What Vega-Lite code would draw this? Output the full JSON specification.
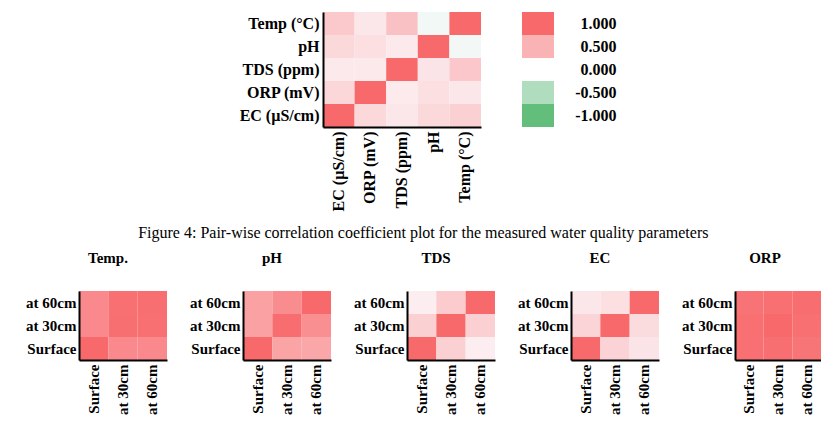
{
  "$schema": "https://vega.github.io/schema/vega-lite/v6.json",
  "background": "white",
  "padding": {"left": 25, "top": 12, "right": 0, "bottom": 0},
  "config": {
    "view": {"stroke": null},
    "font": "Liberation Serif",
    "axis": {"domain": true, "domainColor": "black", "domainWidth": 2, "ticks": false, "labelFont": "Liberation Serif", "labelFontWeight": "bold", "labelColor": "black", "title": null, "grid": false},
    "title": {"font": "Liberation Serif", "fontSize": 15, "fontWeight": "bold", "color": "black", "offset": 25}
  },
  "datasets": {
    "main": [
      {"row": "Temp (°C)", "col": "EC (µS/cm)", "r": 0.35},
      {"row": "Temp (°C)", "col": "ORP (mV)", "r": 0.15},
      {"row": "Temp (°C)", "col": "TDS (ppm)", "r": 0.4},
      {"row": "Temp (°C)", "col": "pH", "r": -0.07},
      {"row": "Temp (°C)", "col": "Temp (°C)", "r": 1},
      {"row": "pH", "col": "EC (µS/cm)", "r": 0.24},
      {"row": "pH", "col": "ORP (mV)", "r": 0.2},
      {"row": "pH", "col": "TDS (ppm)", "r": 0.13},
      {"row": "pH", "col": "pH", "r": 1},
      {"row": "pH", "col": "Temp (°C)", "r": -0.06},
      {"row": "TDS (ppm)", "col": "EC (µS/cm)", "r": 0.13},
      {"row": "TDS (ppm)", "col": "ORP (mV)", "r": 0.13},
      {"row": "TDS (ppm)", "col": "TDS (ppm)", "r": 1},
      {"row": "TDS (ppm)", "col": "pH", "r": 0.16},
      {"row": "TDS (ppm)", "col": "Temp (°C)", "r": 0.36},
      {"row": "ORP (mV)", "col": "EC (µS/cm)", "r": 0.25},
      {"row": "ORP (mV)", "col": "ORP (mV)", "r": 1},
      {"row": "ORP (mV)", "col": "TDS (ppm)", "r": 0.12},
      {"row": "ORP (mV)", "col": "pH", "r": 0.2},
      {"row": "ORP (mV)", "col": "Temp (°C)", "r": 0.15},
      {"row": "EC (µS/cm)", "col": "EC (µS/cm)", "r": 1},
      {"row": "EC (µS/cm)", "col": "ORP (mV)", "r": 0.24},
      {"row": "EC (µS/cm)", "col": "TDS (ppm)", "r": 0.15},
      {"row": "EC (µS/cm)", "col": "pH", "r": 0.24},
      {"row": "EC (µS/cm)", "col": "Temp (°C)", "r": 0.3}
    ],
    "legend": [
      {"label": "1.000", "r": 1},
      {"label": "0.500", "r": 0.5},
      {"label": "-0.500", "r": -0.5},
      {"label": "-1.000", "r": -1}
    ],
    "depth": [
      {"p": "Temp", "rw": "Surface", "c": "Surface", "r": 1},
      {"p": "Temp", "rw": "Surface", "c": "at 30cm", "r": 0.78},
      {"p": "Temp", "rw": "Surface", "c": "at 60cm", "r": 0.78},
      {"p": "Temp", "rw": "at 30cm", "c": "Surface", "r": 0.78},
      {"p": "Temp", "rw": "at 30cm", "c": "at 30cm", "r": 0.96},
      {"p": "Temp", "rw": "at 30cm", "c": "at 60cm", "r": 0.95},
      {"p": "Temp", "rw": "at 60cm", "c": "Surface", "r": 0.78},
      {"p": "Temp", "rw": "at 60cm", "c": "at 30cm", "r": 0.95},
      {"p": "Temp", "rw": "at 60cm", "c": "at 60cm", "r": 0.96},
      {"p": "pH", "rw": "Surface", "c": "Surface", "r": 1},
      {"p": "pH", "rw": "Surface", "c": "at 30cm", "r": 0.6},
      {"p": "pH", "rw": "Surface", "c": "at 60cm", "r": 0.58},
      {"p": "pH", "rw": "at 30cm", "c": "Surface", "r": 0.62},
      {"p": "pH", "rw": "at 30cm", "c": "at 30cm", "r": 0.97},
      {"p": "pH", "rw": "at 30cm", "c": "at 60cm", "r": 0.74},
      {"p": "pH", "rw": "at 60cm", "c": "Surface", "r": 0.62},
      {"p": "pH", "rw": "at 60cm", "c": "at 30cm", "r": 0.76},
      {"p": "pH", "rw": "at 60cm", "c": "at 60cm", "r": 1},
      {"p": "TDS", "rw": "Surface", "c": "Surface", "r": 1},
      {"p": "TDS", "rw": "Surface", "c": "at 30cm", "r": 0.3},
      {"p": "TDS", "rw": "Surface", "c": "at 60cm", "r": 0.1},
      {"p": "TDS", "rw": "at 30cm", "c": "Surface", "r": 0.3},
      {"p": "TDS", "rw": "at 30cm", "c": "at 30cm", "r": 1},
      {"p": "TDS", "rw": "at 30cm", "c": "at 60cm", "r": 0.3},
      {"p": "TDS", "rw": "at 60cm", "c": "Surface", "r": 0.1},
      {"p": "TDS", "rw": "at 60cm", "c": "at 30cm", "r": 0.33},
      {"p": "TDS", "rw": "at 60cm", "c": "at 60cm", "r": 1},
      {"p": "EC", "rw": "Surface", "c": "Surface", "r": 1},
      {"p": "EC", "rw": "Surface", "c": "at 30cm", "r": 0.28},
      {"p": "EC", "rw": "Surface", "c": "at 60cm", "r": 0.16},
      {"p": "EC", "rw": "at 30cm", "c": "Surface", "r": 0.27},
      {"p": "EC", "rw": "at 30cm", "c": "at 30cm", "r": 1},
      {"p": "EC", "rw": "at 30cm", "c": "at 60cm", "r": 0.22},
      {"p": "EC", "rw": "at 60cm", "c": "Surface", "r": 0.15},
      {"p": "EC", "rw": "at 60cm", "c": "at 30cm", "r": 0.2},
      {"p": "EC", "rw": "at 60cm", "c": "at 60cm", "r": 1},
      {"p": "ORP", "rw": "Surface", "c": "Surface", "r": 0.95},
      {"p": "ORP", "rw": "Surface", "c": "at 30cm", "r": 0.96},
      {"p": "ORP", "rw": "Surface", "c": "at 60cm", "r": 0.92},
      {"p": "ORP", "rw": "at 30cm", "c": "Surface", "r": 0.95},
      {"p": "ORP", "rw": "at 30cm", "c": "at 30cm", "r": 1},
      {"p": "ORP", "rw": "at 30cm", "c": "at 60cm", "r": 0.95},
      {"p": "ORP", "rw": "at 60cm", "c": "Surface", "r": 0.93},
      {"p": "ORP", "rw": "at 60cm", "c": "at 30cm", "r": 0.95},
      {"p": "ORP", "rw": "at 60cm", "c": "at 60cm", "r": 0.97}
    ]
  },
  "spacing": 14,
  "vconcat": [
    {
      "spacing": 41,
      "hconcat": [
        {
          "width": 119, "height": 115,
          "data": {"values": [{"s": 0}]},
          "mark": {"type": "point", "opacity": 0},
          "encoding": {}
        },
        {
          "width": 158, "height": 115,
          "data": {"name": "main"},
          "mark": "rect",
          "encoding": {
            "x": {"field": "col", "type": "nominal", "sort": ["EC (µS/cm)", "ORP (mV)", "TDS (ppm)", "pH", "Temp (°C)"], "axis": {"domain": true, "labelAngle": 270, "labelFontSize": 16, "labelPadding": 4}},
            "y": {"field": "row", "type": "nominal", "sort": ["Temp (°C)", "pH", "TDS (ppm)", "ORP (mV)", "EC (µS/cm)"], "axis": {"domain": true, "labelFontSize": 16, "labelPadding": 4}},
            "color": {"field": "r", "type": "quantitative", "scale": {"domain": [-1, 0, 1], "range": ["#63BE7B", "#FCFCFF", "#F8696B"], "interpolate": "rgb"}, "legend": null}
          }
        },
        {
          "width": 32, "height": 115,
          "data": {"name": "legend"},
          "mark": "rect",
          "encoding": {
            "y": {"field": "label", "type": "nominal", "scale": {"domain": ["1.000", "0.500", "0.000", "-0.500", "-1.000"]}, "axis": {"orient": "right", "domain": false, "labelAlign": "right", "labelPadding": 62, "labelFontSize": 16}},
            "color": {"field": "r", "type": "quantitative", "scale": {"domain": [-1, 0, 1], "range": ["#63BE7B", "#FCFCFF", "#F8696B"], "interpolate": "rgb"}, "legend": null}
          }
        }
      ]
    },
    {
      "title": {"text": "Figure 4: Pair-wise correlation coefficient plot for the measured water quality parameters", "fontWeight": "normal", "fontSize": 16, "anchor": "middle", "offset": 10},
      "spacing": 22,
      "hconcat": [
        {
          "width": 88, "height": 69,
          "title": {"text": "Temp.", "dx": -15},
          "data": {"name": "depth"},
          "transform": [{"filter": "datum.p === 'Temp'"}],
          "mark": "rect",
          "encoding": {
            "x": {"field": "c", "type": "nominal", "sort": ["Surface", "at 30cm", "at 60cm"], "axis": {"domain": true, "labelAngle": 270, "labelFontSize": 15, "labelPadding": 4}},
            "y": {"field": "rw", "type": "nominal", "sort": ["at 60cm", "at 30cm", "Surface"], "axis": {"domain": true, "labelFontSize": 15, "labelPadding": 3}},
            "color": {"field": "r", "type": "quantitative", "scale": {"domain": [-1, 0, 1], "range": ["#63BE7B", "#FCFCFF", "#F8696B"], "interpolate": "rgb"}, "legend": null}
          }
        },
        {
          "width": 88, "height": 69,
          "title": {"text": "pH", "dx": -15},
          "data": {"name": "depth"},
          "transform": [{"filter": "datum.p === 'pH'"}],
          "mark": "rect",
          "encoding": {
            "x": {"field": "c", "type": "nominal", "sort": ["Surface", "at 30cm", "at 60cm"], "axis": {"domain": true, "labelAngle": 270, "labelFontSize": 15, "labelPadding": 4}},
            "y": {"field": "rw", "type": "nominal", "sort": ["at 60cm", "at 30cm", "Surface"], "axis": {"domain": true, "labelFontSize": 15, "labelPadding": 3}},
            "color": {"field": "r", "type": "quantitative", "scale": {"domain": [-1, 0, 1], "range": ["#63BE7B", "#FCFCFF", "#F8696B"], "interpolate": "rgb"}, "legend": null}
          }
        },
        {
          "width": 88, "height": 69,
          "title": {"text": "TDS", "dx": -15},
          "data": {"name": "depth"},
          "transform": [{"filter": "datum.p === 'TDS'"}],
          "mark": "rect",
          "encoding": {
            "x": {"field": "c", "type": "nominal", "sort": ["Surface", "at 30cm", "at 60cm"], "axis": {"domain": true, "labelAngle": 270, "labelFontSize": 15, "labelPadding": 4}},
            "y": {"field": "rw", "type": "nominal", "sort": ["at 60cm", "at 30cm", "Surface"], "axis": {"domain": true, "labelFontSize": 15, "labelPadding": 3}},
            "color": {"field": "r", "type": "quantitative", "scale": {"domain": [-1, 0, 1], "range": ["#63BE7B", "#FCFCFF", "#F8696B"], "interpolate": "rgb"}, "legend": null}
          }
        },
        {
          "width": 88, "height": 69,
          "title": {"text": "EC", "dx": -15},
          "data": {"name": "depth"},
          "transform": [{"filter": "datum.p === 'EC'"}],
          "mark": "rect",
          "encoding": {
            "x": {"field": "c", "type": "nominal", "sort": ["Surface", "at 30cm", "at 60cm"], "axis": {"domain": true, "labelAngle": 270, "labelFontSize": 15, "labelPadding": 4}},
            "y": {"field": "rw", "type": "nominal", "sort": ["at 60cm", "at 30cm", "Surface"], "axis": {"domain": true, "labelFontSize": 15, "labelPadding": 3}},
            "color": {"field": "r", "type": "quantitative", "scale": {"domain": [-1, 0, 1], "range": ["#63BE7B", "#FCFCFF", "#F8696B"], "interpolate": "rgb"}, "legend": null}
          }
        },
        {
          "width": 86, "height": 69,
          "title": {"text": "ORP", "dx": -13},
          "data": {"name": "depth"},
          "transform": [{"filter": "datum.p === 'ORP'"}],
          "mark": "rect",
          "encoding": {
            "x": {"field": "c", "type": "nominal", "sort": ["Surface", "at 30cm", "at 60cm"], "axis": {"domain": true, "labelAngle": 270, "labelFontSize": 15, "labelPadding": 4}},
            "y": {"field": "rw", "type": "nominal", "sort": ["at 60cm", "at 30cm", "Surface"], "axis": {"domain": true, "labelFontSize": 15, "labelPadding": 3}},
            "color": {"field": "r", "type": "quantitative", "scale": {"domain": [-1, 0, 1], "range": ["#63BE7B", "#FCFCFF", "#F8696B"], "interpolate": "rgb"}, "legend": null}
          }
        }
      ]
    }
  ]
}
